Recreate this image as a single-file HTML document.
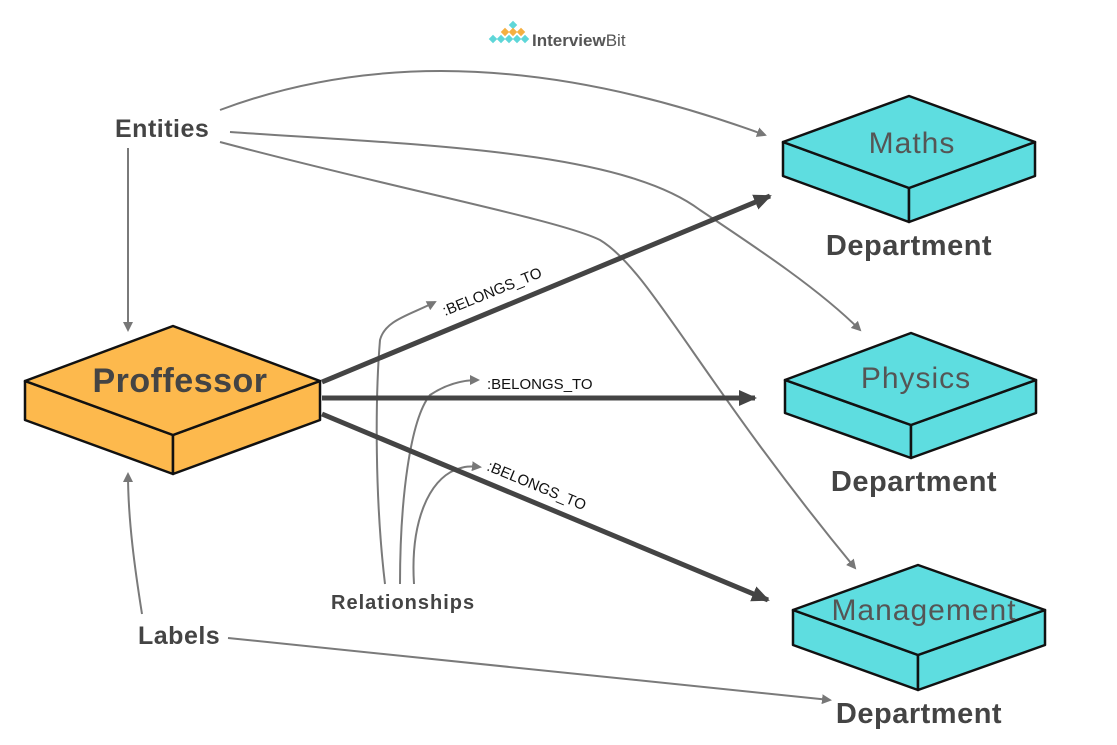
<!DOCTYPE html>
<html><head><meta charset="utf-8"><style>
html,body{margin:0;padding:0;background:#fff;}
svg{display:block;font-family:"Liberation Sans",sans-serif;}
</style></head><body>
<svg width="1117" height="745" viewBox="0 0 1117 745" xmlns="http://www.w3.org/2000/svg">
<defs>
<marker id="ag" markerWidth="10" markerHeight="10" refX="8" refY="5" orient="auto" markerUnits="userSpaceOnUse"><path d="M0,0 L10,5 L0,10 Z" fill="#777"/></marker>
<marker id="ad" markerWidth="20" markerHeight="16" refX="16" refY="8" orient="auto" markerUnits="userSpaceOnUse"><path d="M0,0 L18,8 L0,16 Z" fill="#444"/></marker>
</defs>
<!-- logo -->
<g>
<g fill="#5ed6d8"><rect x="490" y="36" width="6" height="6" transform="rotate(45 493 39)"/><rect x="498" y="36" width="6" height="6" transform="rotate(45 501 39)"/><rect x="506" y="36" width="6" height="6" transform="rotate(45 509 39)"/><rect x="514" y="36" width="6" height="6" transform="rotate(45 517 39)"/><rect x="522" y="36" width="6" height="6" transform="rotate(45 525 39)"/><rect x="510" y="22" width="6" height="6" transform="rotate(45 513 25)"/></g>
<g fill="#f5b041"><rect x="502" y="29" width="6" height="6" transform="rotate(45 505 32)"/><rect x="510" y="29" width="6" height="6" transform="rotate(45 513 32)"/><rect x="518" y="29" width="6" height="6" transform="rotate(45 521 32)"/></g>
<text x="532" y="46" font-size="17" fill="#555" font-weight="bold">Interview<tspan font-weight="normal">Bit</tspan></text>
</g>
<!-- thin grey connectors -->
<g fill="none" stroke="#7a7a7a" stroke-width="2">
<path d="M220,110 C380,50 560,60 765,135" marker-end="url(#ag)"/>
<path d="M230,132 C420,145 620,150 700,210 C760,250 820,290 860,330" marker-end="url(#ag)"/>
<path d="M220,142 C400,190 560,220 600,240 C650,270 700,380 855,568" marker-end="url(#ag)"/>
<path d="M128,148 L128,330" marker-end="url(#ag)"/>
<path d="M142,614 C135,570 128,520 128,474" marker-end="url(#ag)"/>
<path d="M228,638 L830,700" marker-end="url(#ag)"/>
<path d="M385,584 C375,500 375,400 380,340 C385,320 410,315 435,302" marker-end="url(#ag)"/>
<path d="M400,584 C400,500 410,420 430,395 C445,385 460,380 478,380" marker-end="url(#ag)"/>
<path d="M414,584 C410,520 430,480 455,470 C465,466 470,466 480,467" marker-end="url(#ag)"/>
</g>
<!-- thick relationship arrows -->
<g fill="none" stroke="#444" stroke-width="5">
<path d="M322,382 L770,196" marker-end="url(#ad)"/>
<path d="M322,398 L755,398" marker-end="url(#ad)"/>
<path d="M322,414 L768,600" marker-end="url(#ad)"/>
</g>
<g font-size="15" fill="#111">
<text x="445" y="316" transform="rotate(-22 445 316)">:BELONGS_TO</text>
<text x="487" y="389">:BELONGS_TO</text>
<text x="486" y="470" transform="rotate(22.5 486 470)">:BELONGS_TO</text>
</g>
<!-- Professor box -->
<g stroke="#111" stroke-width="2.5" stroke-linejoin="round" fill="#fdb94d">
<path d="M25,381 L173,435 L173,474 L25,420 Z"/>
<path d="M173,435 L320,381 L320,420 L173,474 Z"/>
<path d="M173,326 L320,381 L173,435 L25,381 Z"/>
</g>
<text x="180" y="392" font-size="34" font-weight="bold" fill="#444" text-anchor="middle" letter-spacing="0.5">Proffessor</text>
<!-- Dept boxes -->
<g stroke="#111" stroke-width="2.5" stroke-linejoin="round" fill="#5edde0">
<path d="M783,142 L909,188 L909,222 L783,176 Z"/><path d="M909,188 L1035,142 L1035,176 L909,222 Z"/><path d="M909,96 L1035,142 L909,188 L783,142 Z"/>
<path d="M785,380 L911,425 L911,458 L785,413 Z"/><path d="M911,425 L1036,380 L1036,413 L911,458 Z"/><path d="M911,333 L1036,380 L911,425 L785,380 Z"/>
<path d="M793,610 L918,655 L918,690 L793,645 Z"/><path d="M918,655 L1045,610 L1045,645 L918,690 Z"/><path d="M918,565 L1045,610 L918,655 L793,610 Z"/>
</g>
<g font-size="30" fill="#555" text-anchor="middle" letter-spacing="1">
<text x="912" y="153">Maths</text>
<text x="916" y="388">Physics</text>
<text x="924" y="620">Management</text>
</g>
<g font-size="29" font-weight="bold" fill="#444" text-anchor="middle" letter-spacing="0.5">
<text x="909" y="255">Department</text>
<text x="914" y="491">Department</text>
<text x="919" y="723">Department</text>
</g>
<g font-size="25" font-weight="bold" fill="#444" letter-spacing="0.5">
<text x="115" y="137">Entities</text>
<text x="138" y="644">Labels</text>
<text x="331" y="609" font-size="20" letter-spacing="1">Relationships</text>
</g>
</svg>
</body></html>
